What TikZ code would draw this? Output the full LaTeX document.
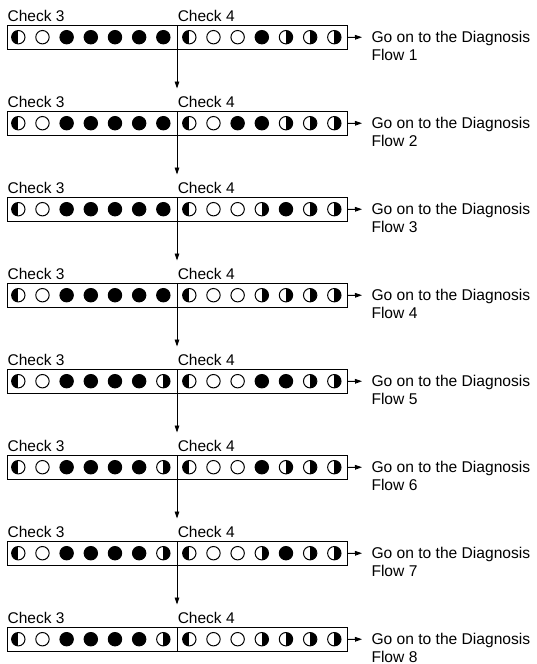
\documentclass[tikz,border=0pt]{standalone}
\usepackage{fontspec}
\setmainfont{Liberation Sans}
\usetikzlibrary{arrows.meta}
\tikzset{
  circ/.style={circle, draw, line width=1pt, minimum size=13.4pt, inner sep=0pt, outer sep=0pt},
  symO/.style={},
  symF/.style={fill=black},
  symL/.style={path picture={\fill[black] (path picture bounding box.south west) rectangle (path picture bounding box.north);}},
  symR/.style={path picture={\fill[black] (path picture bounding box.south) rectangle (path picture bounding box.north east);}},
  rowbox/.style={draw, line width=0.9pt, minimum width=340pt, minimum height=24pt, inner sep=0pt, anchor=north west},
  lbl/.style={font=\fontsize{15.5}{18}\selectfont, inner sep=0pt, anchor=base west},
  flowtxt/.style={font=\fontsize{15.6}{18}\selectfont, inner sep=0pt, anchor=north west, align=left},
  conn/.style={line width=0.9pt, -{Triangle[length=7pt,width=4.6pt]}},
  divline/.style={line width=0.9pt}
}
\begin{document}
\begin{tikzpicture}[x=1pt,y=-1pt]
\useasboundingbox (0,0) rectangle (536,664);
\foreach \i/\ca/\cb in {
  1/{L,O,F,F,F,F,F}/{L,O,O,F,R,R,R},
  2/{L,O,F,F,F,F,F}/{L,O,F,F,R,R,R},
  3/{L,O,F,F,F,F,F}/{L,O,O,R,F,R,R},
  4/{L,O,F,F,F,F,F}/{L,O,O,R,R,R,R},
  5/{L,O,F,F,F,F,R}/{L,O,O,F,F,R,R},
  6/{L,O,F,F,F,F,R}/{L,O,O,F,R,R,R},
  7/{L,O,F,F,F,F,R}/{L,O,O,R,F,R,R},
  8/{L,O,F,F,F,F,R}/{L,O,O,R,R,R,R}} {
  \pgfmathsetmacro\tp{25+86*(\i-1)}
  \pgfmathsetmacro\cy{\tp+12.2}
  \node[rowbox] (b\i) at (7,\tp) {};
  \coordinate (dt\i) at (177,\tp);
  \coordinate (db\i) at (177,\tp+24);
  \draw[divline] (dt\i) -- (db\i);
  \node[lbl] (l3-\i) at (7.4,\tp-3.4) {Check 3};
  \node[lbl] (l4-\i) at (177.6,\tp-3.4) {Check 4};
  \foreach \s [count=\k] in \ca {
    \node[circ, sym\s] (c\i-\k) at ({18.3+24.17*(\k-1)},\cy) {};
  }
  \foreach \s [count=\k] in \cb {
    \node[circ, sym\s] (d\i-\k) at ({189.3+24.17*(\k-1)},\cy) {};
  }
  \node[flowtxt] (f\i) at (371.3,\tp+5.5) {Go on to the Diagnosis\\Flow \i};
  \coordinate (fa\i) at (362,\tp+12.2);
  \draw[conn] (b\i.east) -- (fa\i);
}
\foreach \i in {1,...,7} {
  \pgfmathsetmacro\ey{25+86*\i-22.5}
  \coordinate (e\i) at (177,\ey);
  \draw[conn] (db\i) -- (e\i);
}
\end{tikzpicture}
\end{document}
